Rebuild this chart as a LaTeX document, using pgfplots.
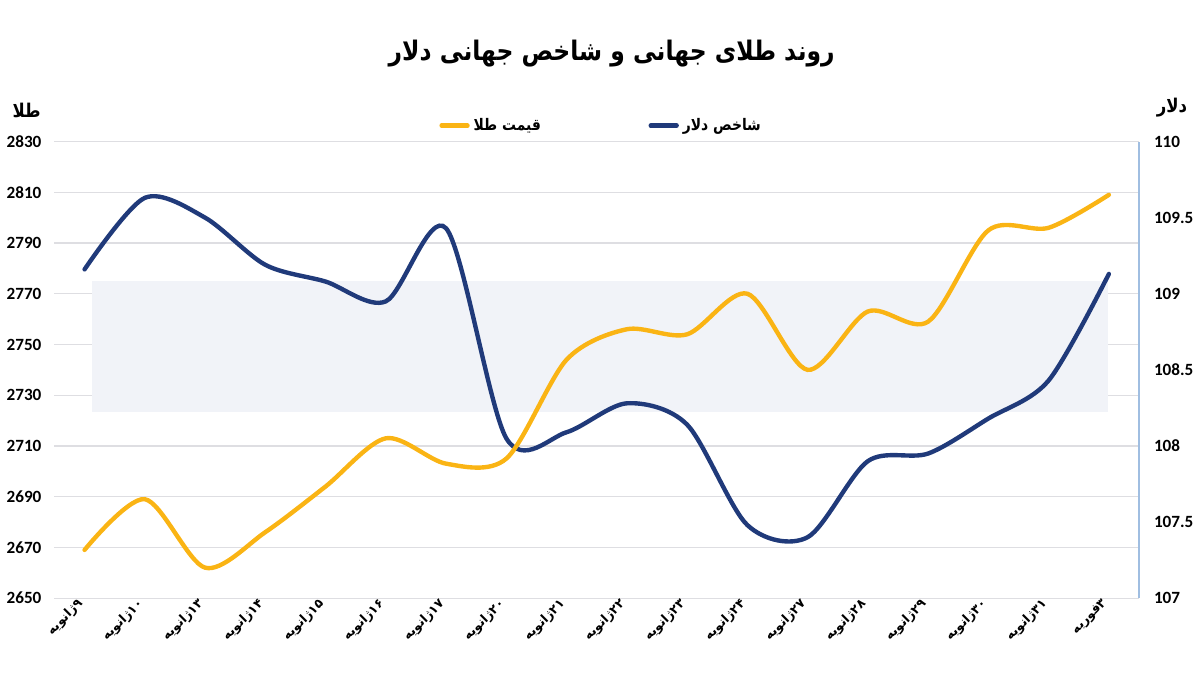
\documentclass[border=0pt]{standalone}
\usepackage{fontspec}
\usepackage{pgfplots}
\usepackage{pgfplotstable}
\pgfplotsset{compat=1.18}
\setmainfont{Carlito}
\newfontfamily\arabicfont[Script=Arabic]{DejaVu Sans}
\newfontfamily\arabicmid[Script=Arabic, FakeStretch=0.87]{DejaVu Sans}
\TeXXeTstate=1
\definecolor{gold}{RGB}{250,180,20}
\definecolor{navy}{RGB}{32,58,122}
\definecolor{gridc}{RGB}{222,222,226}
\definecolor{raxis}{RGB}{160,190,225}
\definecolor{wm}{RGB}{241,243,248}
\newcommand\fa[1]{{\beginR #1\endR}}

\pgfplotstableread{
x gold dxy
0 2669 109.16
1 2689 109.63
2 2662 109.50
3 2676 109.19
4 2694 109.08
5 2713 108.95
6 2703 109.43
7 2705 108.05
8 2744 108.09
9 2756 108.28
10 2754 108.14
11 2770 107.48
12 2740 107.40
13 2763 107.90
14 2759 107.95
15 2795 108.18
16 2796 108.43
17 2809 109.13
}\data

\pgfplotsset{
  base/.style={
    scale only axis, width=544pt, height=229pt,
    at={(26.5pt,37.5pt)}, anchor=south west,
    xmin=-0.5, xmax=17.5,
    major tick length=0pt,
    /pgf/number format/1000 sep={},
    /pgf/number format/assume math mode=true,
  }
}

\begin{document}
\begin{tikzpicture}[x=1pt,y=1pt]
\path (0,0) rectangle (600,337.5);
\node[font=\arabicmid\bfseries\fontsize{13.5}{15}\selectfont] at (306,310.5) {\fa{روند طلای جهانی و شاخص جهانی دلار}};
\node[font=\arabicmid\bfseries\fontsize{9.5}{11}\selectfont] at (12.5,282) {\fa{طلا}};
\node[font=\arabicmid\bfseries\fontsize{9.5}{11}\selectfont] at (587,283.5) {\fa{دلار}};

% axis 1: gold scale, grid, watermark box, legend
\begin{axis}[base,
  ymin=2650, ymax=2830, ytick={2650,2670,...,2830},
  axis line style={draw=none},
  ymajorgrids, grid style={gridc, line width=0.6pt},
  xtick={0,...,17},
  xticklabels={{\fa{۹ژانویه}},{\fa{۱۰ژانویه}},{\fa{۱۳ژانویه}},{\fa{۱۴ژانویه}},{\fa{۱۵ژانویه}},{\fa{۱۶ژانویه}},{\fa{۱۷ژانویه}},{\fa{۲۰ژانویه}},{\fa{۲۱ژانویه}},{\fa{۲۲ژانویه}},{\fa{۲۳ژانویه}},{\fa{۲۴ژانویه}},{\fa{۲۷ژانویه}},{\fa{۲۸ژانویه}},{\fa{۲۹ژانویه}},{\fa{۳۰ژانویه}},{\fa{۳۱ژانویه}},{\fa{۳فوریه}}},
  xticklabel style={rotate=45, anchor=east, xshift=-1pt, inner sep=1.5pt, font=\arabicfont\bfseries\fontsize{6.3}{8}\selectfont},
  yticklabel style={font=\bfseries\fontsize{8.6}{10}\selectfont, xshift=-3pt},
  legend columns=2,
  legend style={draw=none, fill=none, at={(axis description cs:0.505,1.0)}, anchor=south,
    font=\arabicmid\bfseries\fontsize{8}{10}\selectfont,
    /tikz/every even column/.append style={column sep=52pt}},
  legend image code/.code={\draw[line width=2.2pt, line cap=round] (0pt,0pt) -- (13pt,0pt);},
]
\fill[wm] (axis cs:0.12,2723.5) rectangle (axis cs:16.99,2775);
\addlegendimage{gold}
\addlegendentry{\fa{قیمت طلا}}
\addlegendimage{navy}
\addlegendentry{\fa{شاخص دلار}}
\end{axis}

% axis 2: dollar index on right
\begin{axis}[base,
  ymin=107, ymax=110, ytick={107,107.5,...,110},
  axis x line=none, axis y line*=right,
  y axis line style={raxis, line width=0.6pt, -},
  yticklabel style={font=\bfseries\fontsize{8.6}{10}\selectfont, xshift=4pt},
  xtick=\empty,
]
\addplot[navy, line width=2.2pt, smooth, line cap=round] table[x=x, y=dxy] {\data};
\end{axis}

% axis 3: gold price on top
\begin{axis}[base, ymin=2650, ymax=2830, hide axis]
\addplot[gold, line width=2.2pt, smooth, line cap=round] table[x=x, y=gold] {\data};
\end{axis}
\end{tikzpicture}
\end{document}
